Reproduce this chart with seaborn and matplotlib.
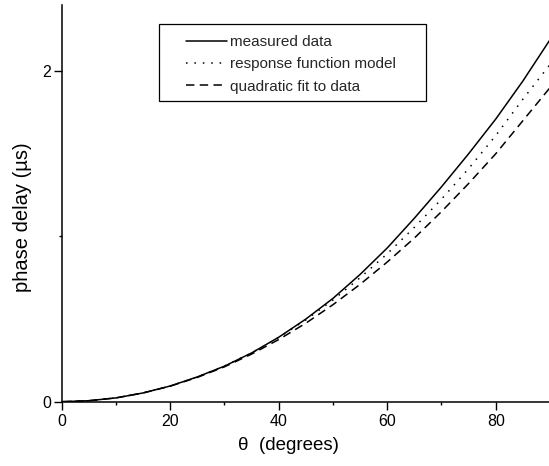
import numpy as np
import pandas as pd
import matplotlib
matplotlib.use("Agg")
import matplotlib.pyplot as plt
from matplotlib.patches import Rectangle
import seaborn as sns

# ---- data ----
theta = [0, 5, 10, 15, 20, 25, 30, 35, 40, 45, 50, 55, 60, 65, 70, 75, 80, 85, 90]
measured = [0, 0.006, 0.023, 0.053, 0.095, 0.150, 0.215, 0.295, 0.390, 0.500,
            0.625, 0.770, 0.930, 1.110, 1.300, 1.500, 1.710, 1.940, 2.190]
model = [0, 0.006, 0.023, 0.053, 0.095, 0.150, 0.216, 0.295, 0.388, 0.495,
         0.615, 0.750, 0.895, 1.055, 1.225, 1.410, 1.610, 1.830, 2.040]
quadfit = [0, 0.006, 0.023, 0.053, 0.094, 0.147, 0.211, 0.288, 0.376, 0.475,
           0.587, 0.710, 0.845, 0.990, 1.150, 1.320, 1.500, 1.700, 1.900]
series_names = ["measured data", "response function model", "quadratic fit to data"]
x_ticks = [0, 20, 40, 60, 80]
y_ticks = [0, 2]

df = pd.concat([
    pd.DataFrame({"theta": theta, "delay": vals, "series": name})
    for name, vals in zip(series_names, [measured, model, quadfit])
], ignore_index=True)

sns.set_style("ticks")
plt.rcParams["font.family"] = ["Liberation Sans", "DejaVu Sans"]

fig = plt.figure(figsize=(5.49, 4.66), dpi=100)
ax = fig.add_axes([61.7 / 549, 64.3 / 466, 488.3 / 549, 396.7 / 466])

sns.lineplot(data=df, x="theta", y="delay", hue="series", style="series",
             palette=["black"] * 3,
             dashes={series_names[0]: "", series_names[1]: (1, 4.5),
                     series_names[2]: (5.5, 3.5)},
             linewidth=1.1, ax=ax, legend=True)

ax.set_xlim(0, 90)
ax.set_ylim(0, 2.4)
ax.set_xticks(x_ticks)
ax.set_yticks(y_ticks)
ax.set_xticks([10, 30, 50, 70, 90], minor=True)
ax.set_yticks([1], minor=True)
ax.tick_params(axis="both", which="major", length=5.5, width=1.0, labelsize=11.5,
               color="black", labelcolor="black")
ax.tick_params(axis="x", which="major", pad=3)
ax.tick_params(axis="y", which="major", pad=2)
ax.tick_params(axis="both", which="minor", length=2.5, width=1.0, color="black")

for s in ["top", "right"]:
    ax.spines[s].set_visible(False)
for s in ["left", "bottom"]:
    ax.spines[s].set_linewidth(1.1)
    ax.spines[s].set_color("black")

ax.set_xlabel("θ  (degrees)", fontsize=13.5, color="black")
ax.xaxis.set_label_coords(0.4635, -0.09)
ax.set_ylabel("phase delay (µs)", fontsize=14.5, color="black")
ax.yaxis.set_label_coords(-0.061, 0.464)

handles, labels = ax.get_legend_handles_labels()
leg = ax.legend(handles, labels, loc="upper left", frameon=False,
                bbox_to_anchor=(186 / 549, 1 - 35 / 466),
                bbox_transform=fig.transFigure, borderpad=0, borderaxespad=0,
                fontsize=11, handlelength=2.7, handletextpad=0.15,
                labelspacing=0.55)
for line in leg.get_lines():
    line.set_linewidth(1.1)

fig.patches.append(Rectangle((159 / 549, 1 - 101 / 466), 267 / 549, 77 / 466,
                             transform=fig.transFigure, fill=False,
                             edgecolor="black", linewidth=0.9))

fig.savefig("out.png", dpi=100, facecolor="white")
